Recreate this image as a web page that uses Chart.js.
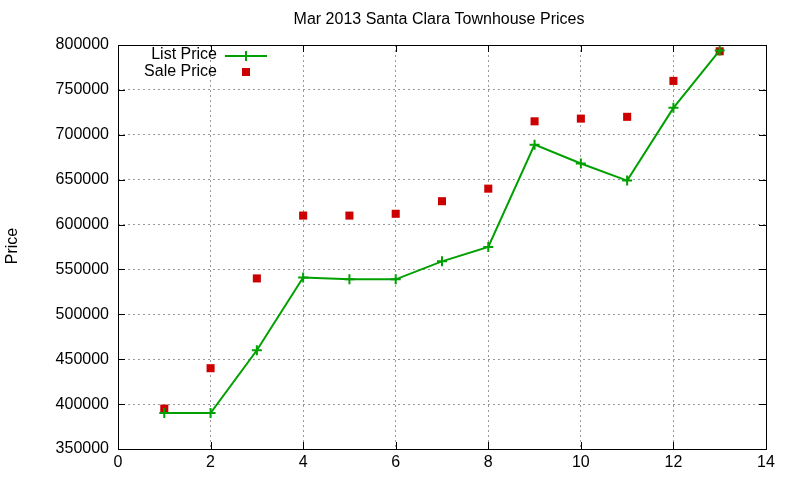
<!DOCTYPE html>
<html>
<head>
<meta charset="utf-8">
<script src="https://cdn.jsdelivr.net/npm/chart.js@4"></script>
<style>
  html, body { margin: 0; padding: 0; background: #fff; }
  #wrap { width: 800px; height: 480px; position: relative; }
</style>
</head>
<body>
<div id="wrap"><canvas id="c" width="800" height="480"></canvas></div>
<script>
// month index (1..13) and prices
const months = [1, 2, 3, 4, 5, 6, 7, 8, 9, 10, 11, 12, 13];
const listPrice = [390000, 390000, 460000, 541000, 539000, 539000, 559000, 575000, 689000, 668000, 649000, 730000, 794000];
const salePrice = [395000, 440000, 540000, 610000, 610000, 612000, 626000, 640000, 715000, 718000, 720000, 760000, 793000];
const xTicks = [0, 2, 4, 6, 8, 10, 12, 14];
const yTicks = [350000, 400000, 450000, 500000, 550000, 600000, 650000, 700000, 750000, 800000];

const FONT = 'Liberation Sans, Arial, sans-serif';
const FS = 16;
const GREEN = '#00a000';
const RED = '#cc0000';

// gnuplot-ish frame: border, inward ticks on all sides, title, y label, key
const gnuFrame = {
  id: 'gnuFrame',
  afterDatasetsDraw(chart) {
    const { ctx, chartArea: a, scales: { x, y } } = chart;
    ctx.save();
    ctx.strokeStyle = '#000';
    ctx.lineWidth = 1;
    ctx.beginPath();
    xTicks.forEach(v => {
      const px = Math.round(x.getPixelForValue(v)) + 0.5;
      ctx.moveTo(px, a.bottom); ctx.lineTo(px, a.bottom - 7);
      ctx.moveTo(px, a.top); ctx.lineTo(px, a.top + 7);
    });
    yTicks.forEach(v => {
      const py = Math.round(y.getPixelForValue(v)) + 0.5;
      ctx.moveTo(a.left, py); ctx.lineTo(a.left + 7, py);
      ctx.moveTo(a.right, py); ctx.lineTo(a.right - 7, py);
    });
    ctx.stroke();
    ctx.strokeRect(Math.round(a.left) + 0.5, Math.round(a.top) + 0.5,
      Math.round(a.right - a.left), Math.round(a.bottom - a.top));

    ctx.fillStyle = '#000';
    ctx.font = FS + 'px ' + FONT;
    ctx.textAlign = 'center';
    ctx.textBaseline = 'middle';
    ctx.fillText('Mar 2013 Santa Clara Townhouse Prices', 439, 20);

    ctx.save();
    ctx.translate(13, 246);
    ctx.rotate(-Math.PI / 2);
    ctx.fillText('Price', 0, 0);
    ctx.restore();

    // key
    ctx.textAlign = 'right';
    ctx.fillText('List Price', 217, 55);
    ctx.fillText('Sale Price', 217, 72);
    ctx.strokeStyle = GREEN;
    ctx.lineWidth = 2;
    ctx.beginPath();
    ctx.moveTo(225, 56); ctx.lineTo(267, 56);
    ctx.moveTo(246, 51); ctx.lineTo(246, 61);
    ctx.stroke();
    ctx.fillStyle = RED;
    ctx.fillRect(242, 68, 8, 8);
    ctx.restore();
  }
};

new Chart(document.getElementById('c'), {
  type: 'scatter',
  data: {
    datasets: [
      {
        label: 'List Price',
        data: months.map((m, i) => ({ x: m, y: listPrice[i] })),
        showLine: true,
        borderColor: GREEN,
        backgroundColor: GREEN,
        borderWidth: 2,
        pointStyle: 'cross',
        pointRadius: 5,
        pointBorderWidth: 2,
        tension: 0
      },
      {
        label: 'Sale Price',
        data: months.map((m, i) => ({ x: m, y: salePrice[i] })),
        showLine: false,
        borderColor: RED,
        backgroundColor: RED,
        pointStyle: 'rect',
        pointRadius: 5.7,
        pointBorderWidth: 0
      }
    ]
  },
  options: {
    responsive: false,
    animation: false,
    devicePixelRatio: 1,
    layout: { padding: { left: 0, right: 34, top: 45, bottom: 0 } },
    plugins: {
      legend: { display: false },
      tooltip: { enabled: false },
      title: { display: false }
    },
    scales: {
      x: {
        type: 'linear',
        min: 0, max: 14,
        afterBuildTicks: s => { s.ticks = xTicks.map(v => ({ value: v })); },
        afterFit: s => { s.height = 31; },
        ticks: { color: '#000', font: { family: FONT, size: FS }, padding: 4,
                 maxRotation: 0, minRotation: 0 },
        grid: { color: '#999', lineWidth: 1, drawTicks: false },
        border: { display: false, dash: [2, 3] }
      },
      y: {
        type: 'linear',
        min: 350000, max: 800000,
        afterBuildTicks: s => { s.ticks = yTicks.map(v => ({ value: v })); },
        afterFit: s => { s.width = 118; },
        ticks: { color: '#000', font: { family: FONT, size: FS }, padding: 9,
                 callback: v => String(v) },
        grid: { color: '#999', lineWidth: 1, drawTicks: false },
        border: { display: false, dash: [2, 3] }
      }
    }
  },
  plugins: [gnuFrame]
});
</script>
</body>
</html>
